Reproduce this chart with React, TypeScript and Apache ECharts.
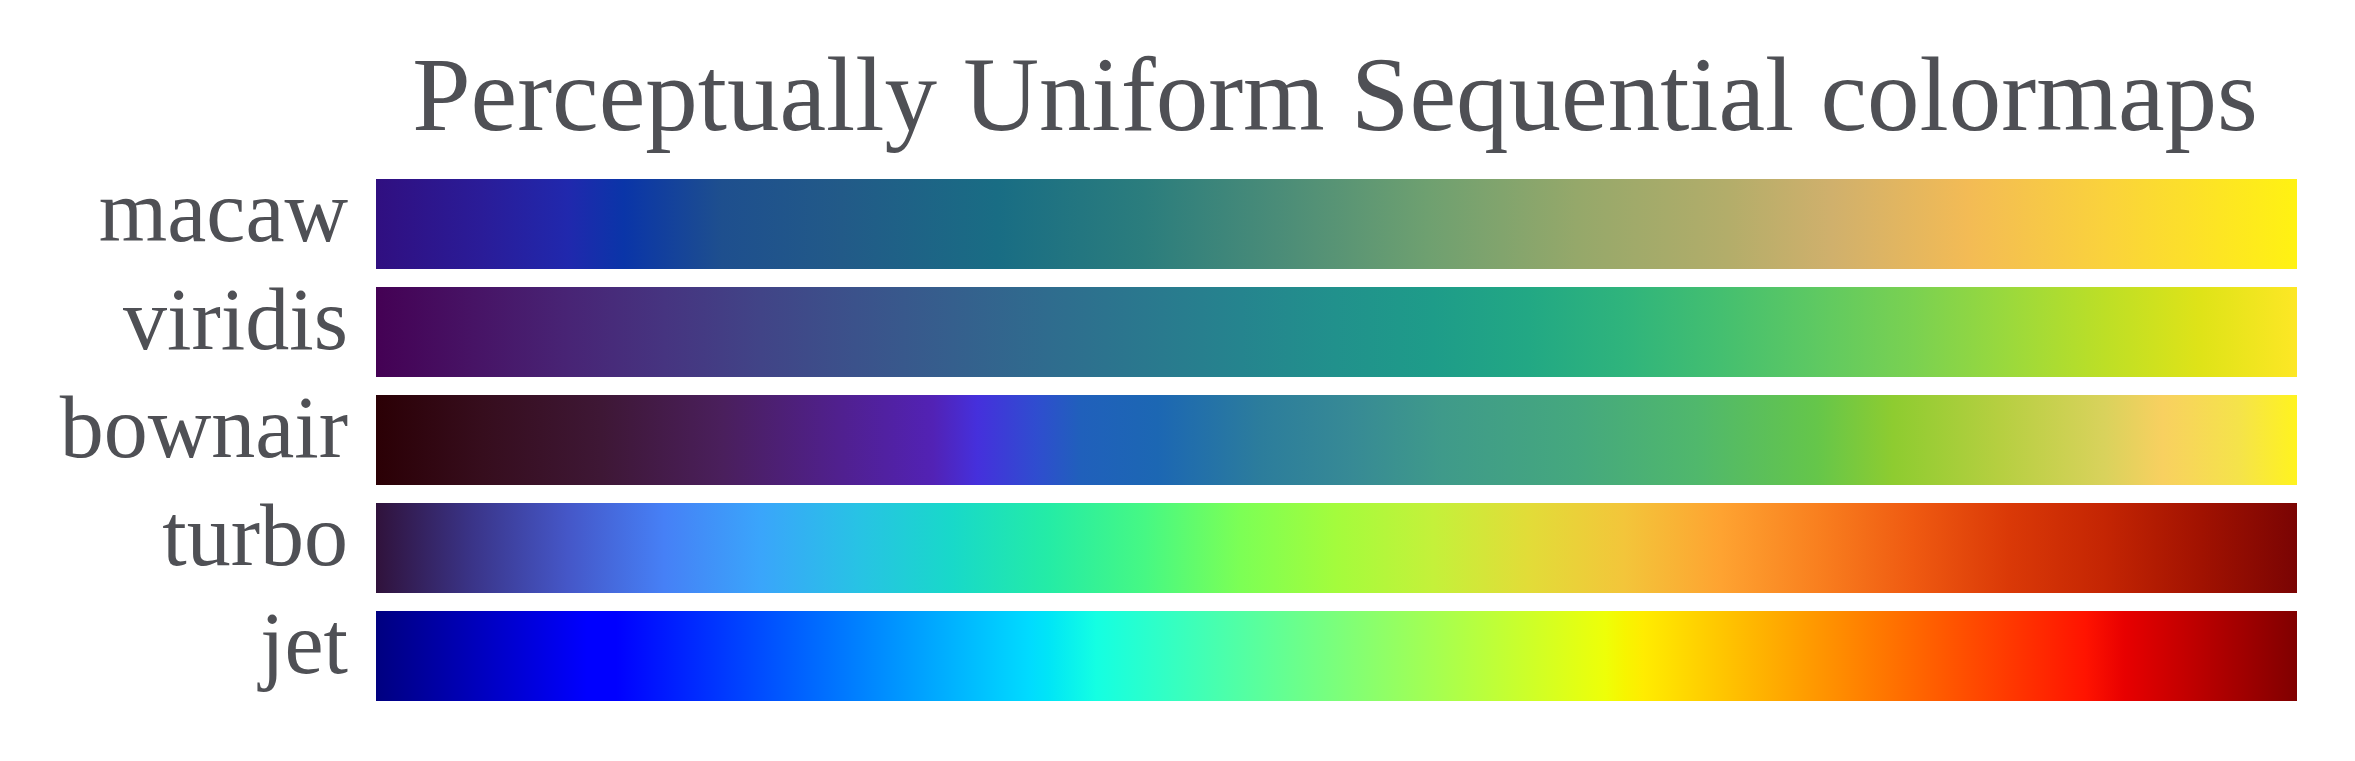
import React, { useEffect, useRef } from "react";
import * as echarts from "echarts";

const TITLE = "Perceptually Uniform Sequential colormaps";
const categories = ["macaw", "viridis", "bownair", "turbo", "jet"];
const barValues = [1, 1, 1, 1, 1];

const macawPos = [0, 0.055, 0.1, 0.129, 0.18, 0.242, 0.324, 0.4, 0.469, 0.547, 0.625, 0.704, 0.758, 0.829, 0.9, 1];
const macawColors = ["#300f80", "#2a1c98", "#2028ad", "#0a35a8", "#1e4f8e", "#225a88", "#196d84", "#2b7d7d", "#4a8c78", "#6ea070", "#95a86a", "#b3ad6a", "#d0b06c", "#f3bb55", "#fad23c", "#fff212"];

const viridisPos = [0, 0.05, 0.1, 0.15, 0.2, 0.25, 0.3, 0.35, 0.4, 0.45, 0.5, 0.55, 0.6, 0.65, 0.7, 0.75, 0.8, 0.85, 0.9, 0.95, 1];
const viridisColors = ["#440154", "#471365", "#482475", "#463480", "#414487", "#3b528b", "#355f8d", "#2f6c8e", "#2a788e", "#25848e", "#21918c", "#1e9c89", "#22a884", "#2fb47c", "#44bf70", "#5ec962", "#7ad151", "#9bd93c", "#bddf26", "#dfe318", "#fde725"];

const bownairPos = [0, 0.055, 0.117, 0.18, 0.242, 0.29, 0.313, 0.344, 0.367, 0.407, 0.461, 0.508, 0.555, 0.625, 0.688, 0.75, 0.79, 0.844, 0.9, 0.93, 0.97, 1];
const bownairColors = ["#2b0005", "#360d1d", "#3e1735", "#4a1f5c", "#50208f", "#5222b5", "#4530dc", "#2f4dcf", "#2060bb", "#1c67b3", "#2c7d9c", "#378a95", "#3f9a8a", "#45a87e", "#50b86c", "#65c64a", "#8ecc30", "#b5cf40", "#d9d25c", "#f8d060", "#f5e34a", "#fff31e"];

const turboPos = [0, 0.05, 0.1, 0.15, 0.2, 0.25, 0.3, 0.35, 0.4, 0.45, 0.5, 0.55, 0.6, 0.65, 0.7, 0.75, 0.8, 0.85, 0.9, 0.95, 1];
const turboColors = ["#30123b", "#3a3488", "#4557c8", "#4680f6", "#3aa5fb", "#28c2e5", "#18d9c9", "#24eca6", "#46f884", "#7cff55", "#a4fc3c", "#c4f13a", "#e2dc38", "#f3c53a", "#fea331", "#f9801f", "#ef5a11", "#da3907", "#c42503", "#a11201", "#7a0403"];

const jetPos = [0, 0.11, 0.125, 0.34, 0.35, 0.375, 0.64, 0.65, 0.66, 0.89, 0.91, 1];
const jetColors = ["#000080", "#0000ff", "#0000ff", "#00dbff", "#00e5f7", "#14ffe2", "#eeff08", "#f7f500", "#ffec00", "#ff1300", "#e80000", "#800000"];

const stopPositions = [macawPos, viridisPos, bownairPos, turboPos, jetPos];
const stopColors = [macawColors, viridisColors, bownairColors, turboColors, jetColors];

const TEXT_COLOR = "#4f5055";
const FONT = "'Liberation Serif', 'Times New Roman', serif";

export default function App() {
  const ref = useRef<HTMLDivElement>(null);
  useEffect(() => {
    if (!ref.current) return;
    const chart = echarts.init(ref.current, null, { renderer: "svg" });
    const data = barValues.map((v, i) => ({
      value: v,
      itemStyle: {
        color: new echarts.graphic.LinearGradient(
          0, 0, 1, 0,
          stopPositions[i].map((p, j) => ({ offset: p, color: stopColors[i][j] }))
        ),
      },
    }));
    chart.setOption({
      animation: false,
      backgroundColor: "#ffffff",
      title: {
        text: TITLE,
        left: 1330,
        top: 37,
        textAlign: "center",
        textStyle: {
          fontFamily: FONT,
          fontSize: 105,
          fontWeight: "normal",
          color: TEXT_COLOR,
        },
      },
      grid: { left: 376, right: 58, top: 170, height: 540, containLabel: false },
      xAxis: {
        type: "value",
        min: 0,
        max: 1,
        show: false,
      },
      yAxis: {
        type: "category",
        data: categories,
        inverse: true,
        axisLine: { show: false },
        axisTick: { show: false },
        splitLine: { show: false },
        axisLabel: {
          interval: 0,
          fontFamily: FONT,
          fontSize: 88,
          color: TEXT_COLOR,
          margin: 28,
          verticalAlign: "bottom",
          lineHeight: 26,
        },
      },
      series: [
        {
          type: "bar",
          data,
          barWidth: 90,
          silent: true,
        },
      ],
    });
    return () => chart.dispose();
  }, []);
  return (
    <div
      ref={ref}
      style={{ position: "fixed", left: 0, top: 0, width: 2355, height: 761, background: "#fff" }}
    />
  );
}
